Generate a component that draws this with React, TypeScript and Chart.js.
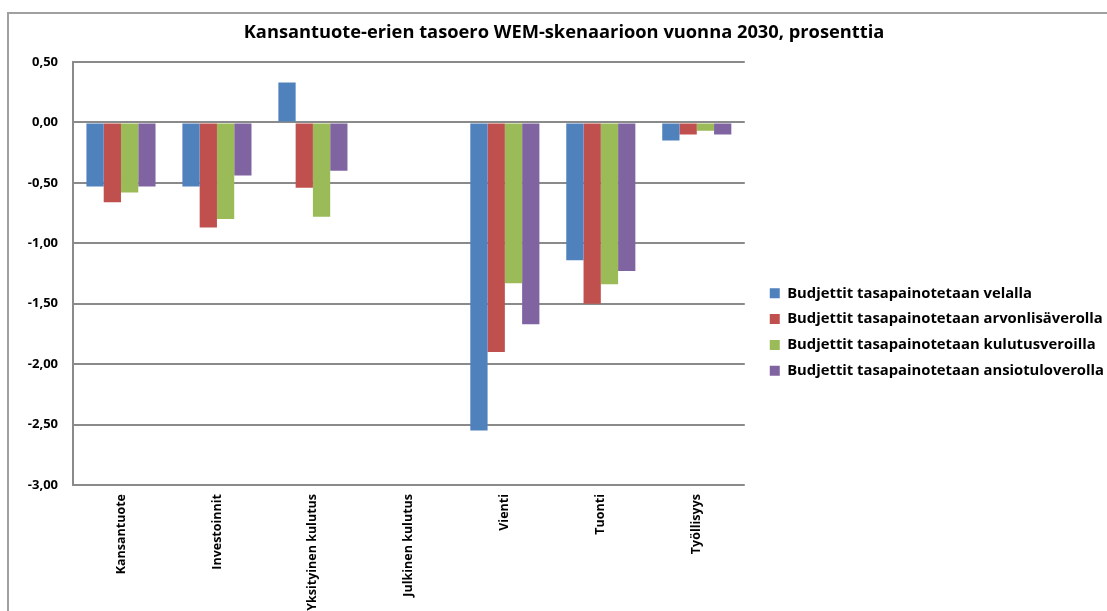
import React, { useEffect, useRef } from "react";
import { Chart, registerables } from "chart.js";

Chart.register(...registerables);

const categories = [
  "Kansantuote",
  "Investoinnit",
  "Yksityinen kulutus",
  "Julkinen kulutus",
  "Vienti",
  "Tuonti",
  "Työllisyys",
];

const seriesNames = [
  "Budjettit tasapainotetaan velalla",
  "Budjettit tasapainotetaan arvonlisäverolla",
  "Budjettit tasapainotetaan kulutusveroilla",
  "Budjettit tasapainotetaan ansiotuloverolla",
];

const velalla = [-0.53, -0.53, 0.33, 0, -2.55, -1.14, -0.15];
const arvonlisaverolla = [-0.66, -0.87, -0.54, 0, -1.9, -1.5, -0.1];
const kulutusveroilla = [-0.58, -0.8, -0.78, 0, -1.33, -1.34, -0.07];
const ansiotuloverolla = [-0.53, -0.44, -0.4, 0, -1.67, -1.23, -0.1];

const colors = ["#4F81BD", "#C0504D", "#9BBB59", "#8064A2"];

const yMin = -3;
const yMax = 0.5;
const yStep = 0.5;

const titleText = "Kansantuote-erien tasoero WEM-skenaarioon vuonna 2030, prosenttia";

const FONT = "'Open Sans', Lato, sans-serif";

export default function App() {
  const canvasRef = useRef<HTMLCanvasElement | null>(null);

  useEffect(() => {
    const canvas = canvasRef.current;
    if (!canvas) return;
    const seriesData = [velalla, arvonlisaverolla, kulutusveroilla, ansiotuloverolla];
    const chart = new Chart(canvas, {
      type: "bar",
      data: {
        labels: categories,
        datasets: seriesData.map((d, i) => ({
          label: seriesNames[i],
          data: d,
          backgroundColor: colors[i],
          borderWidth: 0,
          barPercentage: 1,
          categoryPercentage: 0.72,
        })),
      },
      options: {
        animation: false,
        responsive: false,
        maintainAspectRatio: false,
        layout: { padding: { top: 0, right: 0, bottom: 0, left: 14 } },
        plugins: {
          title: {
            display: true,
            text: titleText,
            color: "#000",
            font: { family: FONT, size: 18.3, weight: "bold" },
            padding: { top: 22, bottom: 18 },
          },
          legend: {
            display: true,
            position: "right",
            maxWidth: 420,
            labels: {
              boxWidth: 10,
              boxHeight: 10,
              padding: 11,
              color: "#000",
              font: { family: FONT, size: 14.8, weight: "bold" },
            },
          },
          tooltip: { enabled: false },
        },
        scales: {
          x: {
            grid: { display: false, drawTicks: false },
            border: { display: false },
            ticks: {
              autoSkip: false,
              maxRotation: 90,
              minRotation: 90,
              padding: 9,
              color: "#000",
              font: { family: FONT, size: 12.5, weight: "bold" },
            },
            afterFit: (s: any) => {
              s.height = 179;
            },
          },
          y: {
            min: yMin,
            max: yMax,
            grid: { color: "#8a8a8a", lineWidth: 2, drawTicks: false },
            border: { display: true, color: "#8a8a8a", width: 2 },
            ticks: {
              stepSize: yStep,
              padding: 15,
              color: "#000",
              font: { family: FONT, size: 13, weight: "bold" },
              callback: (v: any) => Number(v).toFixed(2).replace(".", ","),
            },
            afterFit: (s: any) => {
              s.width = 59;
            },
          },
          gap: {
            position: "right",
            display: true,
            grid: { display: false, drawTicks: false },
            border: { display: false },
            ticks: { display: false },
            afterFit: (s: any) => {
              s.width = 14;
            },
          },
        },
      },
    } as any);
    return () => chart.destroy();
  }, []);

  return (
    <div
      style={{
        position: "fixed",
        left: 0,
        top: 0,
        width: 1107,
        height: 611,
        overflow: "hidden",
        background: "#fff",
      }}
    >
      <div
        style={{
          position: "absolute",
          left: 7,
          top: 12,
          width: 1300,
          height: 900,
          borderTop: "2px solid #a0a0a0",
          borderLeft: "2px solid #a0a0a0",
        }}
      />
      <canvas
        ref={canvasRef}
        width={1114}
        height={664}
        style={{ position: "absolute", left: 0, top: 0, width: 1114, height: 664 }}
      />
    </div>
  );
}
